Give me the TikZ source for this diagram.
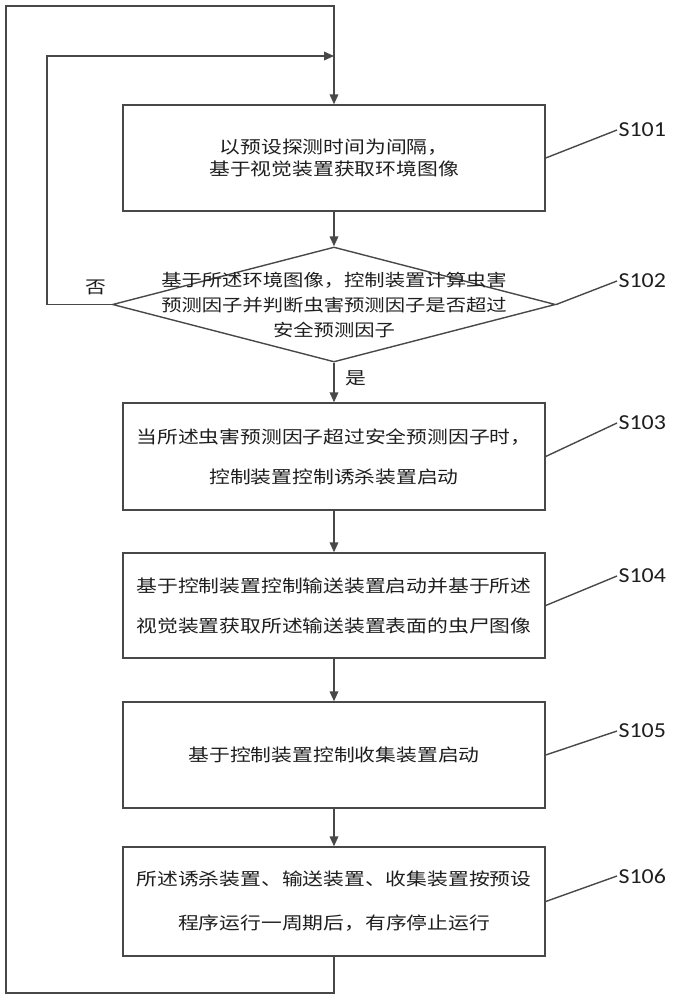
\documentclass[tikz,border=0pt]{standalone}
\usepackage{fontspec}
\newfontfamily\cjk[FakeStretch=1.2]{Noto Sans CJK SC}
\newfontfamily\lab[FakeStretch=1.12]{Carlito}
\usetikzlibrary{arrows.meta,shapes.geometric}
\definecolor{ln}{HTML}{484848}
\definecolor{tx}{HTML}{1E1E1E}
\begin{document}
\begin{tikzpicture}[x=0.75pt,y=-0.75pt,
  line/.style={draw=ln,line width=1.05pt},
  arr/.style={line,-{Triangle[length=7.5pt,width=6.5pt]}},
  box/.style={draw=ln,line width=1.05pt,rectangle,minimum width=316.5pt,inner sep=0pt,align=center,text=tx,font=\cjk\fontsize{13}{30}\selectfont},
  slab/.style={anchor=west,inner sep=1pt,text=tx,font=\lab\fontsize{16}{16}\selectfont},
  yn/.style={text=tx,font=\cjk\fontsize{13}{14}\selectfont,inner sep=1pt}]
\useasboundingbox (0,0) rectangle (672,1000);

% boxes
\node[box,minimum height=79.5pt,font=\cjk\fontsize{13}{16.5}\selectfont] (s101) at (334,158) {以预设探测时间为间隔，\\基于视觉装置获取环境图像};
\node[draw=ln,line width=1.05pt,diamond,minimum width=332.25pt,minimum height=86.25pt,inner sep=0pt] (d) at (334,304.5) {};
\node[text=tx,align=center,inner sep=0pt,font=\cjk\fontsize{12.7}{18.75}\selectfont] (dt) at (334,305) {基于所述环境图像，控制装置计算虫害\\预测因子并判断虫害预测因子是否超过\\安全预测因子};
\node[box,minimum height=80.25pt] (s103) at (334,456.5) {当所述虫害预测因子超过安全预测因子时，\\控制装置控制诱杀装置启动};
\node[box,minimum height=78.75pt] (s104) at (334,605.5) {基于控制装置控制输送装置启动并基于所述\\视觉装置获取所述输送装置表面的虫尸图像};
\node[box,minimum height=79.5pt] (s105) at (334,755) {基于控制装置控制收集装置启动};
\node[box,minimum height=81.75pt,font=\cjk\fontsize{13}{33}\selectfont] (s106) at (334,901.5) {所述诱杀装置、输送装置、收集装置按预设\\程序运行一周期后，有序停止运行};

% step labels
\node[slab] (l101) at (617,130) {S101};
\node[slab] (l102) at (617,281) {S102};
\node[slab] (l103) at (617,423) {S103};
\node[slab] (l104) at (617,576) {S104};
\node[slab] (l105) at (617,731) {S105};
\node[slab] (l106) at (617,876) {S106};
\draw[line] (s101.east) -- (l101.west);
\draw[line] (d.east) -- (l102.west);
\draw[line] (s103.east) -- (l103.west);
\draw[line] (s104.east) -- (l104.west);
\draw[line] (s105.east) -- (l105.west);
\draw[line] (s106.east) -- (l106.west);

% main flow
\draw[arr] (s101) -- (d);
\draw[arr] (d) -- node[yn,pos=0.4,right=7pt]{是} (s103);
\draw[arr] (s103) -- (s104);
\draw[arr] (s104) -- (s105);
\draw[arr] (s105) -- (s106);

% inner loop (no)
\coordinate (inx) at (47,56);
\coordinate (j1) at (334,56);
\draw[arr] (d.west) -- node[yn,pos=0.25,above=6pt]{否} (d.west -| inx) -- (inx) -- (j1);

% outer loop
\coordinate (obl) at (6,993);
\coordinate (otl) at (6,6);
\draw[arr] (s106.south) |- (obl) -- (otl) -| (s101.north);
\end{tikzpicture}
\end{document}
